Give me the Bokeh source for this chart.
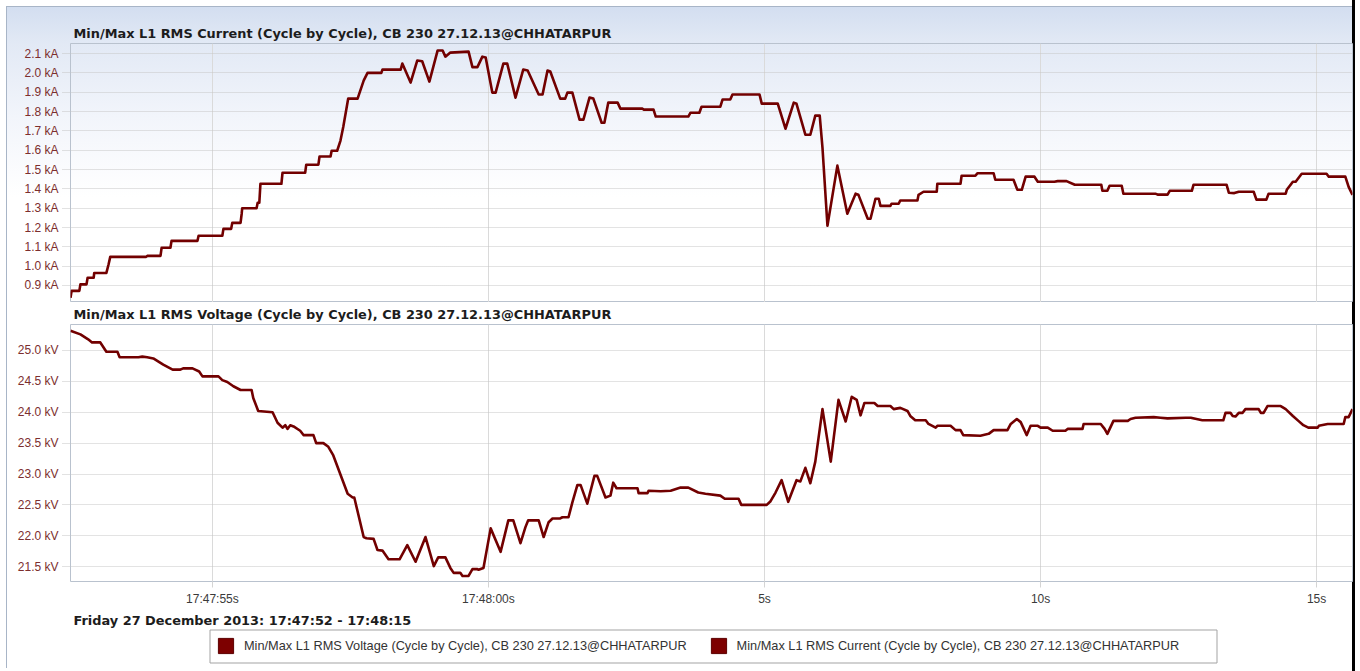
from bokeh.plotting import figure
from bokeh.layouts import column
from bokeh.models import (Range1d, FixedTicker, PrintfTickFormatter, Label,
                          BoxAnnotation, Legend, LegendItem)
from bokeh.embed import file_html
from bokeh.resources import INLINE

# ---- data: time in seconds after 17:47:00 ----
current_t = [52.43, 52.45, 52.59, 52.61, 52.72, 52.74, 52.85, 52.86, 53.08, 53.12,
             53.15, 53.80, 53.82, 54.06, 54.08, 54.24, 54.26, 54.73, 54.75, 55.18,
             55.20, 55.34, 55.36, 55.51, 55.53, 55.54, 55.80, 55.82, 55.85, 55.87,
             56.25, 56.27, 56.68, 56.70, 56.92, 56.94, 57.14, 57.16, 57.26, 57.32,
             57.37, 57.46, 57.63, 57.74, 57.81, 58.06, 58.08, 58.41, 58.44, 58.59,
             58.71, 58.80, 58.93, 59.08, 59.17, 59.22, 59.31, 59.64, 59.71, 59.80,
             59.89, 59.95, 60.07, 60.13, 60.27, 60.34, 60.49, 60.63, 60.71, 60.91,
             60.98, 61.07, 61.12, 61.30, 61.39, 61.43, 61.52, 61.65, 61.72, 61.83,
             61.90, 62.05, 62.10, 62.17, 62.34, 62.39, 62.79, 62.81, 62.99, 63.03,
             63.62, 63.66, 63.82, 63.86, 64.20, 64.24, 64.38, 64.42, 64.91, 64.95,
             65.24, 65.38, 65.53, 65.58, 65.74, 65.83, 65.92, 66.00, 66.05, 66.14,
             66.32, 66.50, 66.65, 66.70, 66.87, 66.92, 67.01, 67.07, 67.10, 67.28,
             67.30, 67.43, 67.46, 67.77, 67.79, 67.88, 68.12, 68.13, 68.55, 68.57,
             68.82, 68.86, 69.15, 69.18, 69.51, 69.58, 69.66, 69.73, 69.89, 69.95,
             70.25, 70.31, 70.47, 70.62, 71.10, 71.12, 71.21, 71.25, 71.47, 71.50,
             72.08, 72.12, 72.30, 72.34, 72.74, 72.77, 73.37, 73.41, 73.51, 73.59,
             73.86, 73.91, 74.09, 74.13, 74.44, 74.46, 74.57, 74.62, 74.73, 75.18,
             75.22, 75.52, 75.58, 75.65]
current_ka = [0.836, 0.872, 0.872, 0.906, 0.906, 0.94, 0.94, 0.965, 0.965, 1.01,
              1.048, 1.048, 1.053, 1.053, 1.095, 1.095, 1.131, 1.131, 1.157, 1.157,
              1.193, 1.193, 1.224, 1.224, 1.27, 1.30, 1.30, 1.328, 1.328, 1.426,
              1.426, 1.483, 1.483, 1.525, 1.525, 1.567, 1.567, 1.597, 1.597, 1.65,
              1.72, 1.867, 1.867, 1.96, 2.0, 2.0, 2.017, 2.017, 2.048, 1.95,
              2.064, 2.06, 1.955, 2.116, 2.116, 2.084, 2.105, 2.11, 2.03, 2.03,
              2.084, 2.08, 1.898, 1.898, 2.048, 2.048, 1.872, 2.017, 2.012, 1.888,
              1.888, 2.012, 2.007, 1.867, 1.867, 1.898, 1.898, 1.758, 1.758, 1.872,
              1.867, 1.742, 1.742, 1.846, 1.846, 1.815, 1.815, 1.81, 1.81, 1.774,
              1.774, 1.794, 1.794, 1.825, 1.825, 1.862, 1.862, 1.888, 1.888, 1.841,
              1.841, 1.711, 1.846, 1.84, 1.68, 1.68, 1.779, 1.779, 1.613, 1.209,
              1.52, 1.271, 1.375, 1.37, 1.245, 1.245, 1.349, 1.349, 1.312, 1.312,
              1.323, 1.323, 1.34, 1.34, 1.369, 1.385, 1.385, 1.426, 1.426, 1.468,
              1.468, 1.481, 1.481, 1.447, 1.447, 1.395, 1.395, 1.463, 1.463, 1.437,
              1.437, 1.44, 1.44, 1.421, 1.421, 1.39, 1.39, 1.416, 1.416, 1.375,
              1.375, 1.37, 1.37, 1.39, 1.39, 1.421, 1.421, 1.38, 1.378, 1.385,
              1.385, 1.344, 1.344, 1.375, 1.375, 1.395, 1.437, 1.437, 1.478, 1.478,
              1.463, 1.463, 1.41, 1.369]

voltage_t = [52.43, 52.61, 52.75, 52.82, 52.97, 53.08, 53.28, 53.32, 53.66, 53.73,
             53.82, 53.93, 54.11, 54.28, 54.42, 54.47, 54.64, 54.76, 54.82, 55.11,
             55.18, 55.27, 55.38, 55.51, 55.71, 55.74, 55.83, 56.09, 56.18, 56.27,
             56.32, 56.36, 56.41, 56.47, 56.59, 56.65, 56.83, 56.88, 57.01, 57.10,
             57.19, 57.45, 57.54, 57.57, 57.74, 57.79, 57.92, 57.99, 58.08, 58.19,
             58.39, 58.53, 58.68, 58.86, 59.01, 59.09, 59.22, 59.31, 59.37, 59.49,
             59.53, 59.64, 59.71, 59.80, 59.82, 59.91, 60.04, 60.22, 60.36, 60.45,
             60.58, 60.67, 60.72, 60.91, 61.00, 61.09, 61.16, 61.30, 61.34, 61.45,
             61.52, 61.61, 61.67, 61.79, 61.92, 61.97, 62.12, 62.21, 62.26, 62.32,
             62.70, 62.72, 62.88, 62.90, 63.12, 63.30, 63.48, 63.62, 63.80, 63.93,
             64.20, 64.28, 64.53, 64.58, 65.04, 65.11, 65.20, 65.31, 65.43, 65.58,
             65.65, 65.74, 65.83, 65.92, 66.05, 66.20, 66.34, 66.47, 66.58, 66.67,
             66.74, 66.81, 66.99, 67.05, 67.28, 67.34, 67.46, 67.59, 67.64, 67.73,
             67.92, 67.97, 68.10, 68.13, 68.37, 68.46, 68.55, 68.60, 68.91, 69.06,
             69.15, 69.40, 69.46, 69.57, 69.64, 69.75, 69.82, 69.95, 70.00, 70.13,
             70.22, 70.45, 70.49, 70.76, 70.78, 71.09, 71.16, 71.21, 71.32, 71.58,
             71.63, 71.72, 72.05, 72.17, 72.30, 72.63, 72.72, 72.93, 73.31, 73.35,
             73.44, 73.48, 73.53, 73.59, 73.66, 73.71, 73.95, 73.99, 74.04, 74.11,
             74.35, 74.44, 74.57, 74.67, 74.76, 74.85, 75.02, 75.04, 75.20, 75.49,
             75.52, 75.58, 75.65]
voltage_kv = [25.32, 25.26, 25.18, 25.13, 25.13, 24.98, 24.98, 24.89, 24.89, 24.90,
              24.89, 24.87, 24.77, 24.69, 24.69, 24.71, 24.71, 24.66, 24.58, 24.58,
              24.52, 24.49, 24.42, 24.36, 24.36, 24.23, 24.02, 24.00, 23.83, 23.75,
              23.79, 23.73, 23.79, 23.77, 23.70, 23.63, 23.63, 23.50, 23.50, 23.44,
              23.30, 22.68, 22.62, 22.62, 21.98, 21.96, 21.95, 21.77, 21.76, 21.62,
              21.62, 21.85, 21.58, 21.98, 21.51, 21.65, 21.65, 21.48, 21.40, 21.40,
              21.35, 21.35, 21.46, 21.46, 21.45, 21.48, 22.12, 21.74, 22.25, 22.25,
              21.88, 22.14, 22.25, 22.25, 21.98, 22.22, 22.28, 22.28, 22.30, 22.30,
              22.54, 22.82, 22.82, 22.52, 22.97, 22.97, 22.62, 22.65, 22.86, 22.77,
              22.77, 22.69, 22.69, 22.73, 22.72, 22.73, 22.78, 22.78, 22.70, 22.68,
              22.65, 22.60, 22.60, 22.50, 22.50, 22.56, 22.70, 22.90, 22.55, 22.90,
              22.88, 23.10, 22.85, 23.20, 24.05, 23.20, 24.20, 23.85, 24.25, 24.20,
              23.95, 24.15, 24.15, 24.10, 24.10, 24.05, 24.07, 24.02, 23.94, 23.87,
              23.87, 23.81, 23.75, 23.78, 23.78, 23.71, 23.71, 23.63, 23.62, 23.65,
              23.71, 23.71, 23.81, 23.89, 23.84, 23.63, 23.78, 23.78, 23.75, 23.75,
              23.70, 23.70, 23.73, 23.73, 23.81, 23.81, 23.73, 23.65, 23.86, 23.86,
              23.89, 23.91, 23.92, 23.91, 23.90, 23.91, 23.91, 23.87, 23.87, 23.99,
              23.99, 23.94, 23.93, 23.99, 23.99, 24.05, 24.05, 23.99, 23.99, 24.10,
              24.10, 24.05, 23.94, 23.86, 23.79, 23.75, 23.75, 23.78, 23.81, 23.81,
              23.92, 23.92, 24.05]

x_ticks = [55, 60, 65, 70, 75]
x_tick_labels = ["17:47:55s", "17:48:00s", "5s", "10s", "15s"]
current_ticks = [0.9, 1.0, 1.1, 1.2, 1.3, 1.4, 1.5, 1.6, 1.7, 1.8, 1.9, 2.0, 2.1]
voltage_ticks = [21.5, 22.0, 22.5, 23.0, 23.5, 24.0, 24.5, 25.0]

title_current = "Min/Max L1 RMS Current (Cycle by Cycle), CB 230 27.12.13@CHHATARPUR"
title_voltage = "Min/Max L1 RMS Voltage (Cycle by Cycle), CB 230 27.12.13@CHHATARPUR"
date_text = "Friday 27 December 2013: 17:47:52 - 17:48:15"

# ---- styling ----
LINE = "#720000"
SWATCH = "#7d0000"
TICK_RED = "#7c2e2e"
UI_FONT = "Liberation Sans"
TITLE_FONT = "DejaVu Sans"
TITLE_SIZE = "12.9px"
TITLE_COLOR = "#1c1c1c"
PANEL_EDGE = "#a8b5c7"
W = 1360
LEFT, RIGHT = 70, 8
TOP_H, MID_H, FOOT_H = 302, 309, 60
x_range = Range1d(52.43, 75.65)
NAN = float("nan")


def panel_css(height, top_edge, gradient, edge_len=None):
    """CSS background: panel border, right divider and optional header gradient."""
    layers = ["linear-gradient(#000,#000)",
              "linear-gradient(%s,%s)" % (PANEL_EDGE, PANEL_EDGE)]
    sizes = ["3px 100%", "1px %dpx" % (edge_len or (height - top_edge))]
    pos = ["1352px 0px", "6px %dpx" % top_edge]
    if gradient:
        layers += ["linear-gradient(%s,%s)" % (PANEL_EDGE, PANEL_EDGE),
                   "linear-gradient(to bottom, #d3def0 0px, #e2e9f5 36px, #f2f5fb 110px, #ffffff 190px)"]
        sizes += ["1346px 1px", "1345px 100%"]
        pos += ["6px 6px", "7px 7px"]
    return {"background-color": "white",
            "background-image": ", ".join(layers),
            "background-size": ", ".join(sizes),
            "background-position": ", ".join(pos),
            "background-repeat": "no-repeat"}


def style_plot(p, title):
    p.outline_line_color = "#b9c2ce"
    p.border_fill_alpha = 0
    ax = p.yaxis[0]
    ax.axis_line_color = None
    ax.major_tick_in = 0
    ax.major_tick_out = 8
    ax.major_tick_line_color = "#c4c4c4"
    ax.major_tick_line_dash = "1 1"
    ax.minor_tick_line_color = None
    ax.major_label_standoff = 4
    ax.major_label_text_font = UI_FONT
    ax.major_label_text_font_size = "12px"
    ax.major_label_text_color = TICK_RED
    p.ygrid.grid_line_color = "#c6c6c6"
    p.ygrid.grid_line_dash = "1 1"
    p.xgrid.ticker = FixedTicker(ticks=x_ticks)
    p.xgrid.grid_line_color = "#dadada"
    p.title.text = title
    p.title.align = "left"
    p.title.offset = 3
    p.title.standoff = 5
    p.title.text_font = TITLE_FONT
    p.title.text_font_size = TITLE_SIZE
    p.title.text_font_style = "bold"
    p.title.text_color = TITLE_COLOR


# ---- current panel ----
p1 = figure(width=W, height=TOP_H, x_range=x_range, y_range=Range1d(0.812, 2.152),
            x_axis_location=None, toolbar_location=None, output_backend="svg",
            min_border_left=LEFT, min_border_right=RIGHT, min_border_top=43,
            min_border_bottom=0)
p1.yaxis.ticker = FixedTicker(ticks=current_ticks)
p1.yaxis.formatter = PrintfTickFormatter(format="%.1f kA")
style_plot(p1, title_current)
p1.background_fill_alpha = 0
p1.styles = panel_css(TOP_H, 6, gradient=True)
p1.line(current_t, current_ka, line_color=LINE, line_width=2.6, line_join="round")

# ---- voltage panel ----
p2 = figure(width=W, height=MID_H, x_range=x_range, y_range=Range1d(21.26, 25.42),
            toolbar_location=None, output_backend="svg",
            min_border_left=LEFT, min_border_right=RIGHT, min_border_top=21,
            min_border_bottom=30)
p2.yaxis.ticker = FixedTicker(ticks=voltage_ticks)
p2.yaxis.formatter = PrintfTickFormatter(format="%.1f kV")
style_plot(p2, title_voltage)
p2.styles = panel_css(MID_H, 0, gradient=False)
xa = p2.xaxis[0]
xa.ticker = FixedTicker(ticks=x_ticks)
xa.major_label_overrides = {t: s for t, s in zip(x_ticks, x_tick_labels)}
xa.axis_line_color = None
xa.major_tick_in = 0
xa.major_tick_out = 6
xa.major_tick_line_color = "#d4d4d4"
xa.minor_tick_line_color = None
xa.major_label_standoff = 4
xa.major_label_text_font = UI_FONT
xa.major_label_text_font_size = "12px"
xa.major_label_text_color = "#3a3a3a"
p2.line(voltage_t, voltage_kv, line_color=LINE, line_width=2.6, line_join="round")

# ---- footer: date range and legend (pixel coordinates, y downwards) ----
foot = figure(width=W, height=FOOT_H, x_range=Range1d(0, W),
              y_range=Range1d(TOP_H + MID_H + FOOT_H, TOP_H + MID_H),
              x_axis_location=None, y_axis_location=None, toolbar_location=None,
              output_backend="svg", min_border=0, frame_align=False)
foot.xgrid.visible = False
foot.ygrid.visible = False
foot.outline_line_color = None
foot.background_fill_alpha = 0
foot.border_fill_alpha = 0
foot.styles = panel_css(FOOT_H, 0, gradient=False, edge_len=57)
foot.add_layout(Label(x=73, y=620, text=date_text, text_baseline="middle",
                      text_font=TITLE_FONT, text_font_size=TITLE_SIZE,
                      text_font_style="bold", text_color=TITLE_COLOR))
foot.add_layout(BoxAnnotation(left=209.5, right=1216.5, top=629.5, bottom=662.5,
                              fill_color="white", fill_alpha=1.0,
                              line_color="#a3a3a3", line_width=1, line_alpha=1.0,
                              level="underlay"))
# swatch renderers for the legend (single empty row, nothing is drawn in the frame)
sw_v = foot.quad(left=[NAN], right=[NAN], top=[NAN], bottom=[NAN],
                 fill_color=SWATCH, line_color="#5c0000")
sw_c = foot.quad(left=[NAN], right=[NAN], top=[NAN], bottom=[NAN],
                 fill_color=SWATCH, line_color="#5c0000")
legend = Legend(items=[LegendItem(label=title_voltage, renderers=[sw_v]),
                       LegendItem(label=title_current, renderers=[sw_c])],
                location=(216, 16), orientation="horizontal",
                glyph_width=19, glyph_height=19, padding=7, spacing=22,
                label_standoff=9, margin=0, border_line_color=None,
                background_fill_alpha=0, label_text_font=UI_FONT,
                label_text_font_size="12.75px", label_text_color="#333333",
                label_height=19)
foot.add_layout(legend)

layout = column(p1, p2, foot, spacing=0)
open("out.html", "w").write(file_html(layout, INLINE))
